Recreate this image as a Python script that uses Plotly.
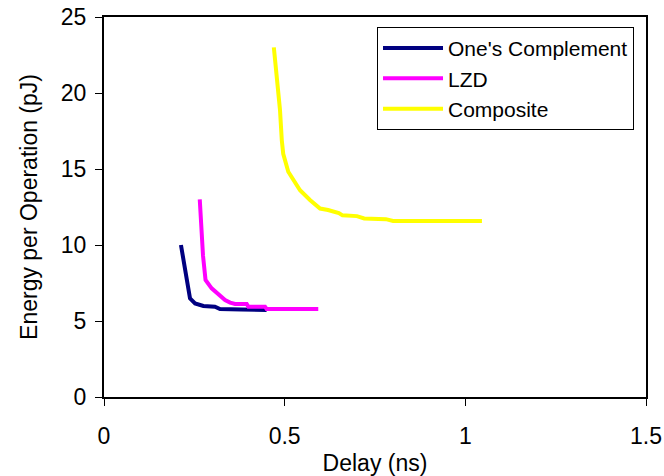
import plotly.graph_objects as go

# One's Complement
oc_delay = [0.213, 0.224, 0.235, 0.238, 0.252, 0.275, 0.307, 0.321, 0.38, 0.45]
oc_energy = [10.0, 8.36, 7.04, 6.49, 6.16, 5.99, 5.94, 5.79, 5.75, 5.72]

# LZD
lzd_delay = [0.265, 0.270, 0.274, 0.281, 0.298, 0.335, 0.349, 0.363, 0.395, 0.3996, 0.4456, 0.450, 0.593]
lzd_energy = [13.0, 11.0, 9.3, 7.7, 7.15, 6.38, 6.21, 6.12, 6.12, 5.94, 5.94, 5.79, 5.79]

# Composite
comp_delay = [0.470, 0.479, 0.487, 0.492, 0.496, 0.510, 0.5425, 0.570, 0.598, 0.62, 0.65, 0.66, 0.70,
              0.72, 0.78, 0.80, 1.046]
comp_energy = [23.0, 20.9, 18.9, 16.9, 16.0, 14.82, 13.6, 12.96, 12.4, 12.3, 12.1, 11.95, 11.9,
               11.75, 11.7, 11.58, 11.58]

x_ticks = [0, 0.5, 1, 1.5]
x_tick_labels = ["0", "0.5", "1", "1.5"]
y_ticks = [0, 5, 10, 15, 20, 25]

FONT = "Liberation Sans, Arial, sans-serif"

fig = go.Figure()
fig.add_trace(go.Scatter(x=oc_delay, y=oc_energy, mode="lines", name="One's Complement",
                         line=dict(color="#000080", width=4)))
fig.add_trace(go.Scatter(x=lzd_delay, y=lzd_energy, mode="lines", name="LZD",
                         line=dict(color="#FF00FF", width=4)))
fig.add_trace(go.Scatter(x=comp_delay, y=comp_energy, mode="lines", name="Composite",
                         line=dict(color="#FFFF00", width=4)))

axis_common = dict(showline=True, mirror=True, linecolor="black", linewidth=2,
                   ticks="outside", ticklen=7, tickcolor="black", tickwidth=1,
                   showgrid=False, zeroline=False, automargin=False,
                   tickfont=dict(family=FONT, size=23, color="black"))

fig.update_layout(
    width=664, height=476,
    margin=dict(l=104, r=18, t=17, b=79),
    paper_bgcolor="white", plot_bgcolor="white",
    font=dict(family=FONT, size=21, color="black"),
    showlegend=True,
    legend=dict(x=0.5037, y=0.974, xanchor="left", yanchor="top",
                bordercolor="black", borderwidth=1, bgcolor="white",
                font=dict(family=FONT, size=21, color="black"),
                itemwidth=60, tracegroupgap=0),
    xaxis=dict(range=[0, 1.5], tickvals=x_ticks, ticktext=x_tick_labels, ticklabelstandoff=10,
               title=dict(text="Delay (ns)", font=dict(family=FONT, size=23, color="black"), standoff=8),
               **axis_common),
    yaxis=dict(range=[0, 25], tickvals=y_ticks, ticklabelstandoff=4,
               title=dict(text="Energy per Operation (pJ)", font=dict(family=FONT, size=23, color="black"), standoff=17),
               **axis_common),
)

fig.write_html("out.html")
